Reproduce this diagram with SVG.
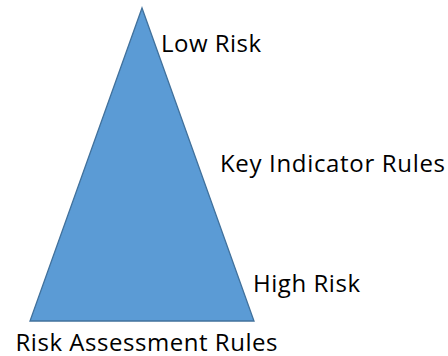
<svg xmlns="http://www.w3.org/2000/svg" width="448" height="356" viewBox="0 0 448 356">
<style>
.lbl{font-family:"Open Sans","Noto Sans",sans-serif;font-size:24px;fill:#000}
</style>
<rect width="448" height="356" fill="#fff"/>
<g id="pyramid">
<polygon points="142,8 254,321 30,321" fill="#5B9BD5" stroke="#41719C" stroke-width="1.3"/>
</g>
<g id="low-risk"><text class="lbl" x="161" y="51.5" textLength="100" lengthAdjust="spacing">Low Risk</text></g>
<g id="key-indicator"><text class="lbl" x="220" y="171.5" textLength="225" lengthAdjust="spacing">Key Indicator Rules</text></g>
<g id="high-risk"><text class="lbl" x="253" y="291.5" textLength="107" lengthAdjust="spacing">High Risk</text></g>
<g id="risk-assessment"><text class="lbl" x="15.5" y="350.5" textLength="262" lengthAdjust="spacing">Risk Assessment Rules</text></g>
</svg>
